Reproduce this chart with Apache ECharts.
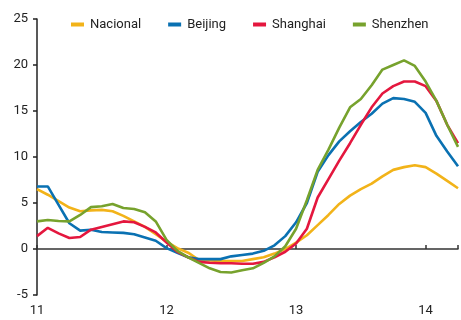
<!DOCTYPE html>
<html>
<head>
<meta charset="utf-8">
<script src="https://cdn.jsdelivr.net/npm/echarts@6/dist/echarts.min.js"></script>
<style>
  html, body { margin: 0; padding: 0; background: #fff; }
  #chart { width: 461px; height: 320px; }
</style>
</head>
<body>
<div id="chart"></div>
<script>
// Monthly readings, starting at the beginning of year 11
const startYear = 11;
const seriesNames = ['Nacional', 'Beijing', 'Shanghai', 'Shenzhen'];
const yearTicks = [11, 12, 13, 14];

const nacional = [6.5, 5.9, 5.2, 4.5, 4.1, 4.2, 4.25, 4.1, 3.6, 3.0, 2.4, 1.6,
  0.8, 0.1, -0.4, -1.2, -1.25, -1.3, -1.3, -1.3, -1.1, -0.9, -0.5, 0.0,
  0.7, 1.5, 2.6, 3.7, 4.9, 5.8, 6.5, 7.1, 7.9, 8.6, 8.9, 9.1,
  8.9, 8.2, 7.4, 6.6];
const beijing = [6.8, 6.8, 4.8, 2.8, 2.0, 2.1, 1.85, 1.8, 1.75, 1.6, 1.25, 0.9,
  0.1, -0.4, -0.9, -1.1, -1.1, -1.1, -0.8, -0.65, -0.5, -0.2, 0.4, 1.4,
  2.9, 5.0, 8.4, 10.2, 11.7, 12.8, 13.8, 14.7, 15.8, 16.4, 16.3, 16.0,
  14.8, 12.3, 10.6, 9.0];
const shanghai = [1.4, 2.3, 1.7, 1.2, 1.3, 2.1, 2.4, 2.7, 3.0, 2.9, 2.4, 1.8,
  0.7, -0.3, -0.9, -1.4, -1.5, -1.55, -1.55, -1.6, -1.6, -1.4, -0.9, -0.3,
  0.6, 2.2, 5.6, 7.6, 9.6, 11.5, 13.5, 15.4, 16.9, 17.7, 18.2, 18.2,
  17.7, 16.1, 13.5, 11.5];
const shenzhen = [3.0, 3.15, 3.05, 3.0, 3.7, 4.55, 4.65, 4.9, 4.45, 4.35, 4.0, 3.0,
  1.0, -0.2, -0.9, -1.5, -2.1, -2.5, -2.55, -2.3, -2.1, -1.5, -0.8, 0.3,
  2.2, 5.3, 8.6, 10.8, 13.2, 15.4, 16.3, 17.8, 19.5, 20.0, 20.5, 19.9,
  18.2, 16.1, 13.5, 11.1];

const colors = ['#F2B319', '#0A71B2', '#E4173E', '#77A22D'];
const values = [nacional, beijing, shanghai, shenzhen];

function toPoints(arr) {
  return arr.map((v, i) => [startYear + i / 12, v]);
}

const fontFamily = 'Roboto, "Noto Sans", sans-serif';
const chart = echarts.init(document.getElementById('chart'), null, { renderer: 'canvas' });

chart.setOption({
  animation: false,
  color: colors,
  textStyle: { fontFamily: fontFamily },
  legend: {
    data: seriesNames,
    left: 71,
    top: 18,
    padding: 0,
    icon: 'rect',
    itemWidth: 13,
    itemHeight: 4,
    itemGap: 27,
    textStyle: { fontSize: 13, color: '#222', fontFamily: fontFamily, padding: [0, 0, 0, 1] }
  },
  grid: { left: 37, right: 0, top: 19, bottom: 25, containLabel: false },
  xAxis: [
    {
      type: 'value',
      min: 11,
      max: 14.25,
      interval: 1,
      position: 'bottom',
      axisLine: { show: false, onZero: false },
      axisTick: { show: false },
      splitLine: { show: false },
      axisLabel: {
        margin: 9,
        fontSize: 13,
        color: '#222',
        formatter: v => (yearTicks.indexOf(v) >= 0 ? String(v) : '')
      }
    },
    {
      type: 'value',
      min: 11,
      max: 14.25,
      interval: 1,
      axisLine: { show: true, onZero: true, lineStyle: { color: '#333', width: 1.5 } },
      axisTick: { show: true, length: 4, lineStyle: { color: '#333', width: 1.5 } },
      splitLine: { show: false },
      axisLabel: { show: false }
    }
  ],
  yAxis: {
    type: 'value',
    min: -5,
    max: 25,
    interval: 5,
    axisLine: { show: true, lineStyle: { color: '#222', width: 1.5 } },
    axisTick: { show: true, length: 4, lineStyle: { color: '#222', width: 1.5 } },
    splitLine: { show: false },
    axisLabel: { margin: 9, fontSize: 13, color: '#222' }
  },
  series: seriesNames.map((name, k) => ({
    name: name,
    type: 'line',
    xAxisIndex: 0,
    data: toPoints(values[k]),
    showSymbol: false,
    symbol: 'none',
    clip: false,
    lineStyle: { width: 2.6, color: colors[k] },
    itemStyle: { color: colors[k] }
  }))
});
</script>
</body>
</html>
